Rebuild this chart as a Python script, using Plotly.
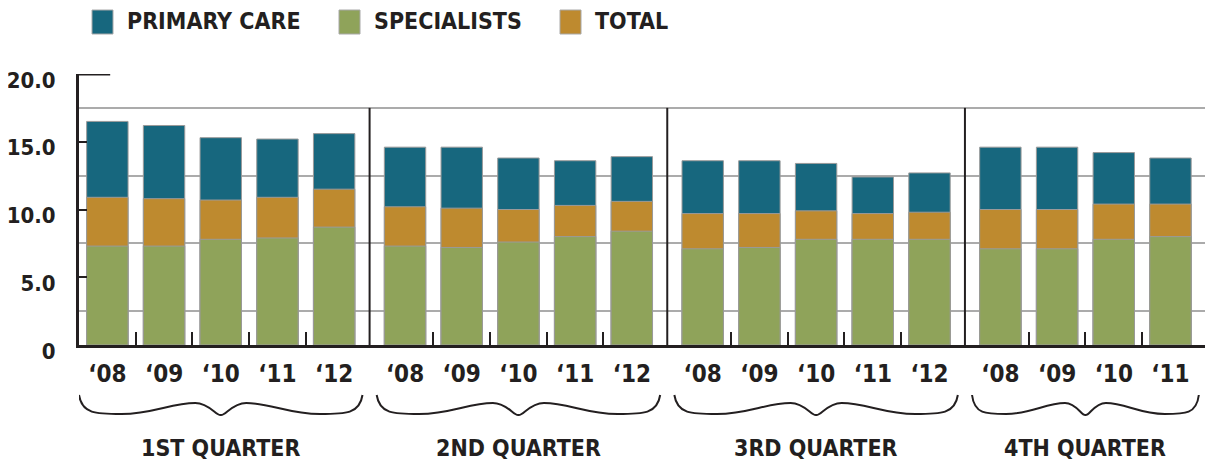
import plotly.graph_objects as go

# ---------------- data ----------------
quarters = ["1ST QUARTER", "2ND QUARTER", "3RD QUARTER", "4TH QUARTER"]
years_q1 = ["\u201808", "\u201809", "\u201810", "\u201811", "\u201812"]
years_q2 = ["\u201808", "\u201809", "\u201810", "\u201811", "\u201812"]
years_q3 = ["\u201808", "\u201809", "\u201810", "\u201811", "\u201812"]
years_q4 = ["\u201808", "\u201809", "\u201810", "\u201811"]

primary_care = [16.5, 16.2, 15.3, 15.2, 15.6,
                14.6, 14.6, 13.8, 13.6, 13.9,
                13.6, 13.6, 13.4, 12.4, 12.7,
                14.6, 14.6, 14.2, 13.8]
total = [10.9, 10.8, 10.7, 10.9, 11.5,
         10.2, 10.1, 10.0, 10.3, 10.6,
         9.7, 9.7, 9.9, 9.7, 9.8,
         10.0, 10.0, 10.4, 10.4]
specialists = [7.3, 7.3, 7.8, 7.9, 8.7,
               7.3, 7.2, 7.6, 8.0, 8.4,
               7.1, 7.2, 7.8, 7.8, 7.8,
               7.1, 7.1, 7.8, 8.0]

y_tickvals = [0, 5, 10, 15, 20]
y_ticktext = ["0", "5.0", "10.0", "15.0", "20.0"]
y_gridvals = [2.5, 7.5, 12.5, 17.5]

# ---------------- style ----------------
C_PRIMARY = "#17677E"
C_SPEC = "#8FA35A"
C_TOTAL = "#BE8A2F"
DARK = "#231F20"
FONT = "DejaVu Sans Condensed, Liberation Sans Narrow, sans-serif"
GROUP_GAP = 0.25

groups = [years_q1, years_q2, years_q3, years_q4]
xpos, xlabels, group_pos = [], [], []
idx = 0
for g, yrs in enumerate(groups):
    gp = []
    for y in yrs:
        p = idx + GROUP_GAP * g
        xpos.append(p)
        xlabels.append(y)
        gp.append(p)
        idx += 1
    group_pos.append(gp)

X0, X1 = -0.5, 19.5

fig = go.Figure()
bar_common = dict(width=0.73, marker_line_color="#9A9A9A", marker_line_width=1)
fig.add_trace(go.Bar(x=xpos, y=primary_care, name="PRIMARY CARE",
                     marker_color=C_PRIMARY, **bar_common))
fig.add_trace(go.Bar(x=xpos, y=total, name="TOTAL",
                     marker_color=C_TOTAL, **bar_common))
fig.add_trace(go.Bar(x=xpos, y=specialists, name="SPECIALISTS",
                     marker_color=C_SPEC, **bar_common))

# minor ticks between bars within each group + right end
minor_x = []
for gp in group_pos:
    for a, b in zip(gp[:-1], gp[1:]):
        minor_x.append((a + b) / 2)
minor_x.append(X1 - 0.02)

shapes = []
# separators between quarters
for a, b in zip(group_pos[:-1], group_pos[1:]):
    xm = (a[-1] + b[0]) / 2
    shapes.append(dict(type="line", xref="x", yref="y", x0=xm, x1=xm, y0=0, y1=17.5,
                       line=dict(color=DARK, width=2), layer="above"))
# long top tick at 20
shapes.append(dict(type="line", xref="x", yref="y", x0=X0, x1=0.05, y0=20, y1=20,
                   line=dict(color=DARK, width=3)))

# page-pixel -> paper helpers (plot area spans x 79..1213, y 74..345 on the page)
def py(p):
    return (345 - p) / 271.0

def px(p):
    return (p - 79) / 1134.0

def brace(xa, xb):
    xm = (xa + xb) / 2
    h = xm - xa
    yt, yb, yh, yc = py(395), py(414), py(403), py(415)

    def half(sign):
        def X(f):
            return xm - sign * h * (1 - f)
        return (X(0), X(0.02), X(0.12), X(0.3), X(0.52), X(0.65), X(0.82), X(0.92), X(0.97), X(1))
    L = half(1)
    R = half(-1)
    path = (f"M{L[0]},{yt} C{L[1]},{yb} {L[2]},{yb} {L[3]},{yb} "
            f"C{L[4]},{yb} {L[5]},{yh} {L[6]},{yh} "
            f"C{L[7]},{yh} {L[8]},{yc-0.005} {L[9]},{yc} "
            f"C{R[8]},{yc-0.005} {R[7]},{yh} {R[6]},{yh} "
            f"C{R[5]},{yh} {R[4]},{yb} {R[3]},{yb} "
            f"C{R[2]},{yb} {R[1]},{yb} {R[0]},{yt}")
    return dict(type="path", xref="x", yref="paper", path=path,
                line=dict(color=DARK, width=2))

annotations = []
for q, gp in zip(quarters, group_pos):
    n = len(gp)
    half_w = (n - 1) / 2 + 0.5
    c = (gp[0] + gp[-1]) / 2
    shapes.append(brace(c - half_w, c + half_w))
    annotations.append(dict(x=c, y=py(448), xref="x", yref="paper", text=q,
                            showarrow=False, xanchor="center", yanchor="middle",
                            font=dict(family=FONT, size=23, color=DARK, weight="bold")))

# manual legend
legend_items = [("PRIMARY CARE", C_PRIMARY, 92), ("SPECIALISTS", C_SPEC, 339), ("TOTAL", C_TOTAL, 560)]
for name, col, x in legend_items:
    shapes.append(dict(type="rect", xref="paper", yref="paper",
                       x0=px(x), x1=px(x + 21), y0=py(34), y1=py(10),
                       fillcolor=col, line=dict(color="#A8A8A8", width=1)))
    annotations.append(dict(x=px(x + 33), y=py(21), xref="paper", yref="paper", text=name,
                            showarrow=False, xanchor="left", yanchor="middle",
                            font=dict(family=FONT, size=23, color=DARK, weight="bold")))

# the page body has an 8px margin, so the figure is shrunk by 8px and margins adjusted
fig.update_layout(
    width=1205, height=457,
    margin=dict(l=71, r=0, t=66, b=120, autoexpand=False),
    barmode="overlay",
    showlegend=False,
    plot_bgcolor="white", paper_bgcolor="white",
    font=dict(family=FONT, color=DARK),
    shapes=shapes,
    annotations=annotations,
    xaxis=dict(range=[X0, X1], tickmode="array", tickvals=xpos, ticktext=xlabels,
               showgrid=False, zeroline=False, showline=True, linecolor=DARK, linewidth=3,
               ticks="", tickfont=dict(family=FONT, size=24, color=DARK, weight="bold"),
               ticklabelstandoff=5, automargin=False,
               minor=dict(tickmode="array", tickvals=minor_x, ticks="inside", ticklen=13,
                          tickwidth=2, tickcolor=DARK, showgrid=False)),
    yaxis=dict(range=[0, 20], tickmode="array", tickvals=y_tickvals, ticktext=y_ticktext,
               showgrid=False, zeroline=False, showline=True, linecolor=DARK, linewidth=3,
               ticks="inside", ticklen=8, tickwidth=2, tickcolor=DARK,
               tickfont=dict(family=FONT, size=22, color=DARK, weight="bold"),
               ticklabelstandoff=16, ticklabelshift=6, automargin=False,
               minor=dict(tickmode="array", tickvals=y_gridvals, ticks="", showgrid=True,
                          gridcolor="#ABABAB", gridwidth=1.5)),
)

fig.write_html("out.html")
